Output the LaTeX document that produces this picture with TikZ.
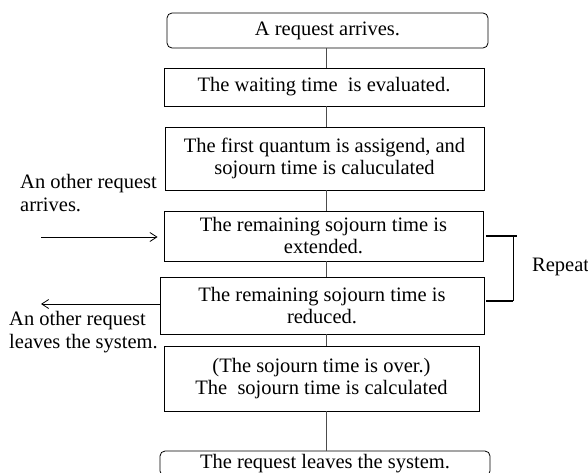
\documentclass[tikz,border=0pt]{standalone}
\usepackage{fontspec}
\setmainfont{Liberation Serif}
\usetikzlibrary{arrows.meta}

\begin{document}
\begin{tikzpicture}[x=1pt,y=-1pt,
    stepbox/.style={draw,line width=0.8pt,inner sep=0pt,align=center,font=\fontsize{20.5}{22}\selectfont},
    endbox/.style={stepbox,rounded corners=5pt},
    note/.style={inner sep=0pt,align=left,anchor=north west,font=\fontsize{20.5}{23.5}\selectfont},
    link/.style={draw=black!70,line width=0.8pt}]
  \useasboundingbox (0,0) rectangle (588,472);

  \node[endbox,minimum width=321pt,minimum height=35pt] (arrive) at (327.5,30.5) {A request arrives.};
  \node[stepbox,minimum width=320pt,minimum height=38pt] (wait) at (324,87) {The waiting time~ is evaluated.};
  \node[stepbox,minimum width=319pt,minimum height=63pt] (first) at (324.5,158.5) {The first quantum is assigend, and\\sojourn time is caluculated};
  \node[stepbox,minimum width=319pt,minimum height=50pt] (extend) at (323.5,236) {The remaining sojourn time is\\extended.};
  \node[stepbox,minimum width=324pt,minimum height=57pt] (reduce) at (322,305.5) {The remaining sojourn time is\\reduced.};
  \node[stepbox,minimum width=315pt,minimum height=65pt] (over) at (321.5,378.5) {(The sojourn time is over.)\\The~ sojourn time is calculated};
  \node[endbox,minimum width=330pt,minimum height=25pt] (leave) at (325,463.5) {The request leaves the system.};

  % flow
  \foreach \a/\b in {arrive/wait,wait/first,first/extend,extend/reduce,reduce/over,over/leave}
    \draw[link] (\a.south -| 326,0) -- (\b.north -| 326,0);

  % other requests
  \coordinate (inStart) at (41,237);
  \coordinate (outEnd) at (41,304);
  \node[note] (inText) at (20,174) {An other request\\arrives.};
  \node[note] (outText) at (9,311) {An other request\\leaves the system.};
  \draw[line width=0.8pt,-{Straight Barb[length=7pt,width=9pt]},shorten >=6pt] (inStart) -- (extend.west |- inStart);
  \draw[line width=0.8pt,-{Straight Barb[length=7pt,width=9pt]}] (reduce.west |- outEnd) -- (outEnd);

  % repeat bracket
  \coordinate (repTop) at (513,236);
  \coordinate (repBot) at (513,301);
  \draw[line width=1.1pt] ([xshift=3pt]extend.east) -- ([xshift=4pt]repTop);
  \draw[line width=1.1pt] ([xshift=2pt]reduce.east |- repBot) -- (repBot);
  \draw[line width=0.8pt] (repTop) -- (repBot);
  \node[note,anchor=west] (repeat) at (532,267) {Repeat};
\end{tikzpicture}
\end{document}
